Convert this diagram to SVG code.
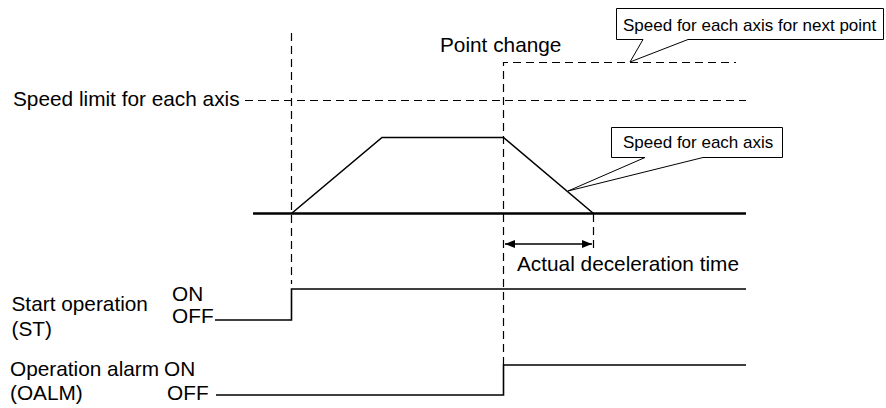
<svg xmlns="http://www.w3.org/2000/svg" width="886" height="408" viewBox="0 0 886 408">
<style>
text{font-family:"Liberation Sans",Arial,sans-serif;fill:#000}
.t{font-size:20.8px}
.s{font-size:17px}
.dash{fill:none;stroke:#000;stroke-width:1.2;stroke-dasharray:8 5}
.ln{fill:none;stroke:#000;stroke-width:1.6}
.base{fill:none;stroke:#000;stroke-width:2.6}
.call{fill:#fff;stroke:#000;stroke-width:1}
</style>
<defs>
<marker id="ah" viewBox="0 0 10 8" refX="10" refY="4" markerWidth="10" markerHeight="8" markerUnits="userSpaceOnUse" orient="auto-start-reverse">
<path d="M0,0 L10,4 L0,8 Z" fill="#000"/>
</marker>
</defs>
<rect width="886" height="408" fill="#fff"/>
<g id="connectors">
<line class="dash" x1="291.5" y1="33" x2="291.5" y2="284"/>
<path class="dash" d="M503.5,365 V62.5 H736"/>
<line class="dash" x1="245" y1="100.5" x2="746" y2="100.5"/>
<line class="dash" x1="593.5" y1="214" x2="593.5" y2="251"/>
<line class="base" x1="253" y1="213.5" x2="746" y2="213.5"/>
<polyline id="speed" class="ln" points="291.5,213.5 382,137.5 503.5,137.5 593.5,213.5"/>
<line class="ln" x1="505" y1="244" x2="592" y2="244" stroke-width="1.4" marker-start="url(#ah)" marker-end="url(#ah)"/>
<polyline id="st-signal" class="ln" points="215,320 291.5,320 291.5,289 746,289"/>
<polyline id="oalm-signal" class="ln" points="216,395 503.5,395 503.5,365 746,365"/>
</g>
<g id="callout-next">
<path class="call" d="M616.5,8.5 H883.5 V39.5 H688 L630,62 L643,39.5 H616.5 Z"/>
<text class="s" x="623" y="31">Speed for each axis for next point</text>
</g>
<g id="callout-speed">
<path class="call" d="M611.5,127.5 H782.5 V157.5 H703 L568,191 L645,157.5 H611.5 Z"/>
<text class="s" x="623" y="148">Speed for each axis</text>
</g>
<g id="label-point-change"><text class="t" x="440" y="52">Point change</text></g>
<g id="label-speed-limit"><text class="t" x="13" y="106">Speed limit for each axis</text></g>
<g id="label-decel"><text class="t" x="517" y="271">Actual deceleration time</text></g>
<g id="label-st">
<text class="t" x="11.5" y="311">Start operation</text>
<text class="t" x="11.5" y="336">(ST)</text>
<text class="t" x="172" y="301">ON</text>
<text class="t" x="172" y="323">OFF</text>
</g>
<g id="label-oalm">
<text class="t" x="10" y="376">Operation alarm</text>
<text class="t" x="10" y="400">(OALM)</text>
<text class="t" x="164" y="376">ON</text>
<text class="t" x="167" y="400">OFF</text>
</g>
</svg>
